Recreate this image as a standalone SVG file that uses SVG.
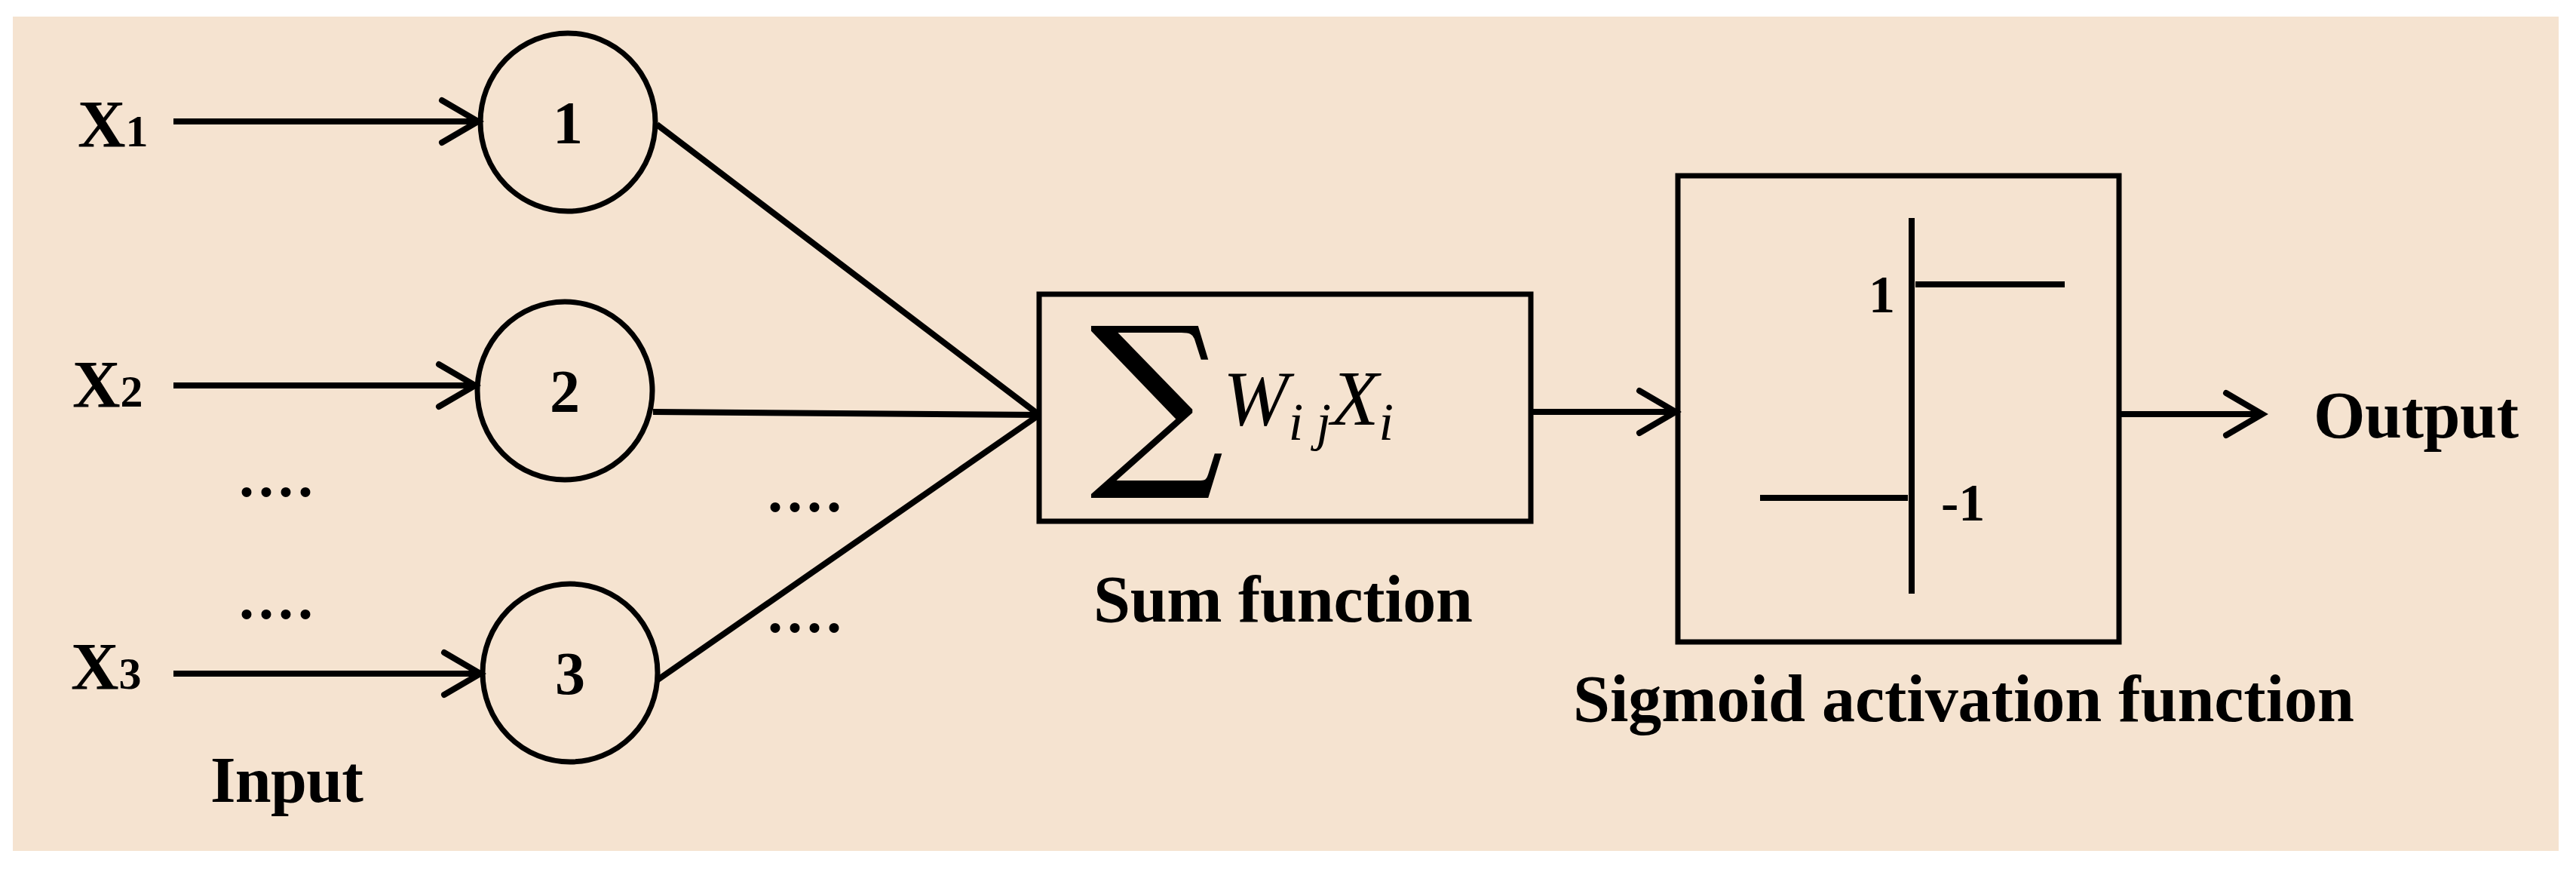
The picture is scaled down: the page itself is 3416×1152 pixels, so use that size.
<svg xmlns="http://www.w3.org/2000/svg" width="3416" height="1152" viewBox="0 0 3416 1152">
<style>
.t{font-family:"Liberation Serif",serif;font-weight:bold;fill:#000}
.ln{stroke:#000;stroke-width:8;fill:none}
.nd{stroke:#000;stroke-width:7;fill:none}
</style>
<defs>
<marker id="ah" markerUnits="userSpaceOnUse" markerWidth="80" markerHeight="80" refX="60" refY="40" orient="auto">
<path d="M12,12 L60,40 L12,68" fill="none" stroke="#000" stroke-width="8" stroke-linecap="round"/>
</marker>
</defs>
<rect width="3416" height="1152" fill="#fff"/>
<rect x="17" y="22" width="3376" height="1106" fill="#F5E3D0"/>
<g id="inputs">
<text class="t" x="103" y="194" font-size="88">X<tspan font-size="60">1</tspan></text>
<text class="t" x="96" y="539" font-size="88">X<tspan font-size="60">2</tspan></text>
<text class="t" x="94" y="913" font-size="88">X<tspan font-size="60">3</tspan></text>
<text class="t" x="317" y="658" font-size="80" textLength="98">....</text>
<text class="t" x="317" y="820" font-size="80" textLength="98">....</text>
<text class="t" x="1018" y="678" font-size="80" textLength="98">....</text>
<text class="t" x="1018" y="838" font-size="80" textLength="98">....</text>
<text class="t" x="279" y="1063" font-size="86" textLength="203">Input</text>
</g>
<g id="node1"><ellipse class="nd" cx="753" cy="162" rx="116" ry="118"/><text class="t" x="753" y="190" font-size="80" text-anchor="middle">1</text></g>
<g id="node2"><ellipse class="nd" cx="749" cy="518" rx="116" ry="118"/><text class="t" x="749" y="546" font-size="80" text-anchor="middle">2</text></g>
<g id="node3"><ellipse class="nd" cx="756" cy="892" rx="116" ry="118"/><text class="t" x="756" y="920" font-size="80" text-anchor="middle">3</text></g>
<g id="sum">
<rect x="1378" y="390" width="652" height="301" fill="none" stroke="#000" stroke-width="7"/>
<text x="1445" y="612" font-family="'DejaVu Serif',serif" font-size="250">∑</text>
<text x="1622" y="563" font-family="'Liberation Serif',serif" font-style="italic" font-size="104">W<tspan font-size="70" dy="20">i j</tspan><tspan dy="-20">X</tspan><tspan font-size="70" dy="20">i</tspan></text>
<text class="t" x="1450" y="824" font-size="88" textLength="503">Sum function</text>
</g>
<g id="sigmoid">
<rect x="2225" y="233" width="585" height="618" fill="none" stroke="#000" stroke-width="7"/>
<line class="ln" x1="2535" y1="289" x2="2535" y2="787" stroke-width="9"/>
<line class="ln" x1="2540" y1="377" x2="2738" y2="377"/>
<line class="ln" x1="2334" y1="660" x2="2530" y2="660"/>
<text class="t" x="2478" y="414" font-size="70">1</text>
<text class="t" x="2574" y="690" font-size="70">-1</text>
<text class="t" x="2086" y="956" font-size="88" textLength="1036">Sigmoid activation function</text>
</g>
<g id="output"><text class="t" x="3068" y="580" font-size="88" textLength="272">Output</text></g>
<g id="connectors">
<line class="ln" x1="230" y1="161" x2="634" y2="161" marker-end="url(#ah)"/>
<line class="ln" x1="230" y1="511" x2="630" y2="511" marker-end="url(#ah)"/>
<line class="ln" x1="230" y1="893" x2="637" y2="893" marker-end="url(#ah)"/>
<line class="ln" x1="871" y1="165" x2="1378" y2="550"/>
<line class="ln" x1="866" y1="546" x2="1378" y2="550"/>
<line class="ln" x1="871" y1="902" x2="1378" y2="550"/>
<line class="ln" x1="2030" y1="546" x2="2222" y2="546" marker-end="url(#ah)"/>
<line class="ln" x1="2810" y1="549" x2="3000" y2="549" marker-end="url(#ah)"/>
</g>
</svg>
